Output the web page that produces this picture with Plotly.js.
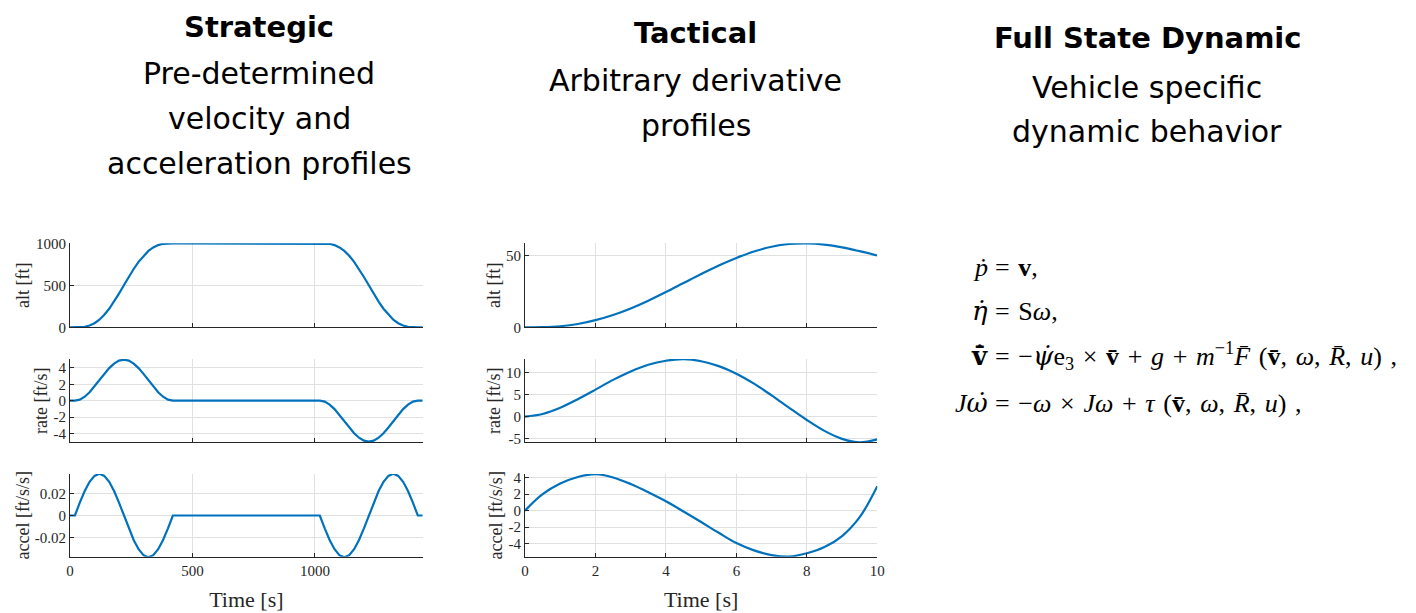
<!DOCTYPE html>
<html><head><meta charset="utf-8">
<script src="https://cdn.plot.ly/plotly-3.0.1.min.js"></script>
<style>html,body{margin:0;padding:0;background:#fff;}#chart{width:1416px;height:613px;}</style>
</head><body><div id="chart"></div>
<script>
// ---------- Strategic data (time in s) ----------
const stratTime = [0,20,40,60,80,100,120,140,160,180,200,220,240,260,280,300,320,340,360,380,400,420,
 440,460,480,500,520,540,560,580,600,620,640,660,680,700,720,740,760,780,800,820,840,860,880,900,920,940,960,980,1000,
 1020,1040,1060,1080,1100,1120,1140,1160,1180,1200,1220,1240,1260,1280,1300,1320,1340,1360,1380,1400,1420,1440];
const stratAlt = [0, 0,1,6,21,49,91,149,221,306,401,500,599,694,779,851,909,951,979,994,999,1000,
 1000,1000,1000,1000,1000,1000,1000,1000,1000,1000,
 1000,1000,1000,1000,1000,1000,1000,1000,1000,1000,
 1000,1000,1000,1000,1000,1000,1000,1000,1000,
 1000,999,994,979,951,909,851,779,694,599,500,401,306,221,149,91,49,21,6,1,0, 0];
const stratRate = [0, 0,0.12,0.48,1.03,1.73,2.5,3.27,3.97,4.52,4.88,5,4.88,4.52,3.97,3.27,2.5,1.73,1.03,0.48,0.12,0,
 0,0,0,0,0,0,0,0,0,0, 0,0,0,0,0,0,0,0,0,0, 0,0,0,0,0,0,0,0,0,
 0,-0.12,-0.48,-1.03,-1.73,-2.5,-3.27,-3.97,-4.52,-4.88,-5,-4.88,-4.52,-3.97,-3.27,-2.5,-1.73,-1.03,-0.48,-0.12,0, 0];
const stratAccel = [0, 0,0.0117,0.0223,0.0307,0.0361,0.038,0.0361,0.0307,0.0223,0.0117,0,-0.0117,-0.0223,-0.0307,-0.0361,-0.038,-0.0361,-0.0307,-0.0223,-0.0117,0,
 0,0,0,0,0,0,0,0,0,0, 0,0,0,0,0,0,0,0,0,0, 0,0,0,0,0,0,0,0,0,
 0,-0.0117,-0.0223,-0.0307,-0.0361,-0.038,-0.0361,-0.0307,-0.0223,-0.0117,0,0.0117,0.0223,0.0307,0.0361,0.038,0.0361,0.0307,0.0223,0.0117,0, 0];

// ---------- Tactical data (time in s) ----------
const tacTime  = [0,0.5,1,1.5,2,2.5,3,3.5,4,4.5,5,5.5,6,6.5,7,7.5,8,8.5,9,9.5,10];
const tacAlt   = [0,0.1,0.75,2.3,5.0,8.6,13.2,18.6,24.6,30.9,37.2,43.2,48.5,53.0,56.3,58.2,58.6,57.8,55.9,53.2,50.2];
const tacRate  = [0,0.6,2.0,3.95,6.1,8.3,10.2,11.7,12.6,12.95,12.5,11.4,9.7,7.45,4.8,2.0,-0.75,-3.2,-5.0,-5.8,-5.1];
const tacAccel = [0,2.0,3.3,4.1,4.45,4.05,3.25,2.25,1.14,-0.1,-1.39,-2.7,-3.96,-4.85,-5.42,-5.6,-5.2,-4.45,-3.1,-0.8,2.98];

// ---------- Tick values / labels ----------
const stratXTicks = [0,500,1000];
const stratXLabels = ['0','500','1000'];
const stratAltTicks = [0,500,1000];
const stratAltLabels = ['0','500','1000'];
const stratRateTicks = [-4,-2,0,2,4];
const stratRateLabels = ['-4','-2','0','2','4'];
const stratAccelTicks = [-0.02,0,0.02];
const stratAccelLabels = ['-0.02','0','0.02'];
const tacXTicks = [0,2,4,6,8,10];
const tacXLabels = ['0','2','4','6','8','10'];
const tacAltTicks = [0,50];
const tacAltLabels = ['0','50'];
const tacRateTicks = [-5,0,5,10];
const tacRateLabels = ['-5','0','5','10'];
const tacAccelTicks = [-4,-2,0,2,4];
const tacAccelLabels = ['-4','-2','0','2','4'];

// ---------- Text ----------
const yTitles = ['alt [ft]','rate [ft/s]','accel [ft/s/s]'];
const xTitle = 'Time [s]';
const headers = [
  {title:'Strategic', lines:['Pre-determined','velocity and','acceleration profiles']},
  {title:'Tactical', lines:['Arbitrary derivative','profiles']},
  {title:'Full State Dynamic', lines:['Vehicle specific','dynamic behavior']}
];
const DJ = '<span style="font-family:DejaVu Serif">';
const sp = '\u2004';
const eqLHS = [
  '<i>ṗ</i>',
  '<i>'+DJ+'η̇</span></i>',
  '<b>'+DJ+'v̄̇</span></b>',
  '<i>J</i>'+'<i>'+DJ+'ω̇</span></i>'
];
const eqRHS = [
  '='+sp+'<b>v</b>,',
  '='+sp+'S<i>ω</i>,',
  '='+sp+'−<i>'+DJ+'ψ̇</span></i>e<sub>3</sub>'+sp+'×'+sp+'<b>v̄</b>'+sp+'+'+sp+'<i>g</i>'+sp+'+'+sp+'<i>m</i><sup>−1</sup><i>F̄</i>'+sp+'(<b>v̄</b>,'+sp+'<i>ω</i>,'+sp+'<i>R̄</i>,'+sp+'<i>u</i>)'+sp+',',
  '='+sp+'−<i>ω</i>'+sp+'×'+sp+'<i>Jω</i>'+sp+'+'+sp+'<i>τ</i>'+sp+'(<b>v̄</b>,'+sp+'<i>ω</i>,'+sp+'<i>R̄</i>,'+sp+'<i>u</i>)'+sp+','
];

// ---------- Layout helpers ----------
const W = 1416, H = 613;
const fx = px => px / W;
const fy = py => 1 - py / H;
const ink = '#262626';
const serif = 'Liberation Serif, Times New Roman, serif';
const sans = 'DejaVu Sans, sans-serif';
const blue = '#0072BD';
const grid = '#e0e0e0';

function xAxis(x0, x1, range, tv, tt, labels, anchor, title) {
  const a = {
    domain:[fx(x0), fx(x1)], range:range, anchor:anchor,
    showline:true, linecolor:ink, linewidth:1, mirror:false,
    ticks:'inside', ticklen:4, tickcolor:ink, tickwidth:1,
    tickvals:tv, ticktext:tt, showticklabels:labels,
    tickfont:{family:serif, size:15, color:ink},
    showgrid:true, gridcolor:grid, gridwidth:1, zeroline:false, fixedrange:true
  };
  if (title) a.title = {text:title, font:{family:serif, size:22, color:ink}, standoff:13};
  return a;
}
function yAxis(y0, y1, range, tv, tt, anchor, title, standoff) {
  return {
    domain:[fy(y1), fy(y0)], range:range, anchor:anchor,
    showline:true, linecolor:ink, linewidth:1, mirror:false,
    ticks:'inside', ticklen:4, tickcolor:ink, tickwidth:1,
    tickvals:tv, ticktext:tt,
    tickfont:{family:serif, size:15, color:ink},
    showgrid:true, gridcolor:grid, gridwidth:1, zeroline:false, fixedrange:true,
    title:{text:title, font:{family:serif, size:18, color:ink}, standoff:standoff}
  };
}

const LX0 = 70, LX1 = 422.7, RX0 = 525, RX1 = 877.3;
const stratXRange = [0, 1440];
const tacXRange = [0, 10];

const traces = [
  {x:stratTime, y:stratAlt,   xaxis:'x',  yaxis:'y'},
  {x:stratTime, y:stratRate,  xaxis:'x2', yaxis:'y2'},
  {x:stratTime, y:stratAccel, xaxis:'x3', yaxis:'y3'},
  {x:tacTime,   y:tacAlt,     xaxis:'x4', yaxis:'y4', line:{shape:'spline'}},
  {x:tacTime,   y:tacRate,    xaxis:'x5', yaxis:'y5', line:{shape:'spline'}},
  {x:tacTime,   y:tacAccel,   xaxis:'x6', yaxis:'y6', line:{shape:'spline'}}
].map(t => Object.assign({type:'scatter', mode:'lines', hoverinfo:'skip', cliponaxis:false},
   t, {line:Object.assign({color:blue, width:2.2}, t.line||{})}));

const annotations = [];
headers.forEach((h, i) => {
  const cx = [259, 695.5, 1147][i];
  const tyc = [27.5, 33.5, 37.5][i];
  const lineY = [[73.7,118.7,163.7],[81,126],[87,131]][i];
  annotations.push({xref:'paper', yref:'paper', x:fx(cx), y:fy(tyc), xanchor:'center', yanchor:'middle',
    text:'<b>'+h.title+'</b>', showarrow:false, font:{family:sans, size:29, color:'#000'}});
  h.lines.forEach((ln, j) => annotations.push({xref:'paper', yref:'paper', x:fx(cx), y:fy(lineY[j]),
    xanchor:'center', yanchor:'middle', text:ln, showarrow:false, font:{family:sans, size:30, color:'#000'}}));
});
const eqY = [267, 311, 356, 403];
eqLHS.forEach((t, i) => {
  annotations.push({xref:'paper', yref:'paper', x:fx(990), y:fy(eqY[i]), xanchor:'right', yanchor:'middle',
    text:t, showarrow:false, font:{family:serif, size:26, color:'#000'}});
  annotations.push({xref:'paper', yref:'paper', x:fx(993), y:fy(eqY[i]), xanchor:'left', yanchor:'middle',
    text:eqRHS[i], showarrow:false, font:{family:serif, size:26, color:'#000'}});
});

const layout = {
  width:W, height:H, margin:{l:0, r:0, t:0, b:0},
  paper_bgcolor:'#fff', plot_bgcolor:'#fff', showlegend:false,
  xaxis:  xAxis(LX0, LX1, stratXRange, stratXTicks, stratXLabels, false, 'y'),
  xaxis2: xAxis(LX0, LX1, stratXRange, stratXTicks, stratXLabels, false, 'y2'),
  xaxis3: xAxis(LX0, LX1, stratXRange, stratXTicks, stratXLabels, true,  'y3', xTitle),
  xaxis4: xAxis(RX0, RX1, tacXRange, tacXTicks, tacXLabels, false, 'y4'),
  xaxis5: xAxis(RX0, RX1, tacXRange, tacXTicks, tacXLabels, false, 'y5'),
  xaxis6: xAxis(RX0, RX1, tacXRange, tacXTicks, tacXLabels, true,  'y6', xTitle),
  yaxis:  yAxis(243.3, 327.3, [0, 1000], stratAltTicks, stratAltLabels, 'x', yTitles[0], 1),
  yaxis2: yAxis(359, 442.3, [-5.08, 5.08], stratRateTicks, stratRateLabels, 'x2', yTitles[1], 1),
  yaxis3: yAxis(474, 556.7, [-0.0375, 0.0378], stratAccelTicks, stratAccelLabels, 'x3', yTitles[2], 0),
  yaxis4: yAxis(243.3, 327.3, [0, 58.7], tacAltTicks, tacAltLabels, 'x4', yTitles[0], 0),
  yaxis5: yAxis(359, 442.3, [-5.77, 13.0], tacRateTicks, tacRateLabels, 'x5', yTitles[1], 0),
  yaxis6: yAxis(474, 556.7, [-5.62, 4.47], tacAccelTicks, tacAccelLabels, 'x6', yTitles[2], 1),
  annotations:annotations
};

Plotly.newPlot('chart', traces, layout, {displayModeBar:false, staticPlot:true});
</script></body></html>
